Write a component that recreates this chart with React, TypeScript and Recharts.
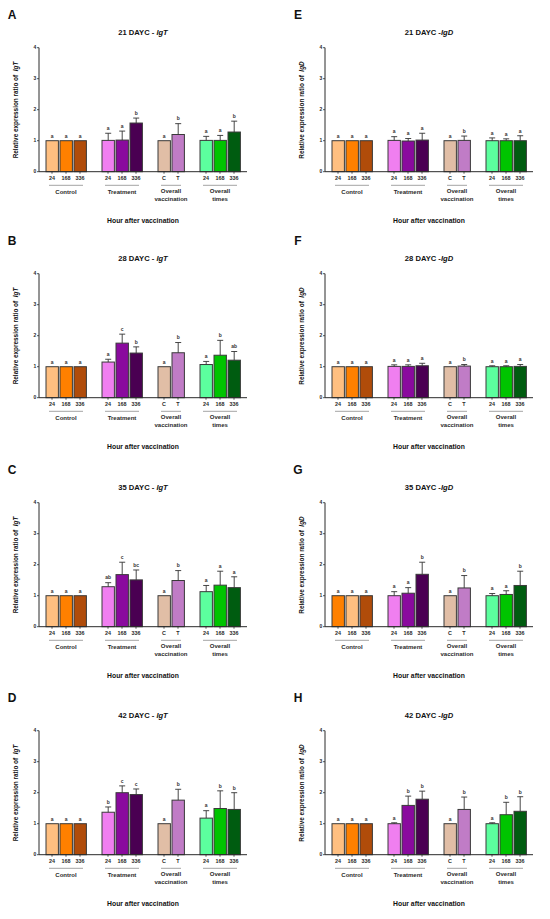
import React from 'react';
import { BarChart, Bar, XAxis, YAxis } from 'recharts';

const FONT = '"Liberation Sans", Arial, sans-serif';
const INK = '#2a2a2a';
const BAND = 14;

const GROUPS = [['Control'], ['Treatment'], ['Overall', 'vaccination'], ['Overall', 'times']];
const TICKS = [['24', '168', '336'], ['24', '168', '336'], ['C', 'T'], ['24', '168', '336']];
const Y_TICKS = [0, 1, 2, 3, 4];

const COLORS = ['#FFBF80', '#FF8000', '#B04C0A', '#F07FF0', '#8A0A9E', '#4A0052', '#E1BEA6', '#C07CC6', '#5CFF9E', '#00C400', '#005C10'];
const COLORS_G = ['#FF8000', '#FFBF80', '#B04C0A', '#F07FF0', '#8A0A9E', '#4A0052', '#E1BEA6', '#C07CC6', '#5CFF9E', '#00C400', '#005C10'];

// IgT
const igT21Mean = [1, 1, 1, 1.01, 1.02, 1.57, 1, 1.2, 1.01, 1.01, 1.28];
const igT21Err = [0, 0, 0, 0.23, 0.29, 0.16, 0, 0.35, 0.13, 0.16, 0.35];
const igT21Sig = ['a', 'a', 'a', 'a', 'a', 'b', 'a', 'b', 'a', 'a', 'b'];

const igT28Mean = [1, 1, 1, 1.15, 1.76, 1.44, 1, 1.45, 1.07, 1.37, 1.21];
const igT28Err = [0, 0, 0, 0.09, 0.29, 0.2, 0, 0.33, 0.1, 0.48, 0.28];
const igT28Sig = ['a', 'a', 'a', 'a', 'c', 'b', 'a', 'b', 'a', 'b', 'ab'];

const igT35Mean = [1, 1, 1, 1.29, 1.68, 1.51, 1, 1.49, 1.13, 1.34, 1.26];
const igT35Err = [0, 0, 0, 0.13, 0.4, 0.32, 0, 0.32, 0.2, 0.45, 0.35];
const igT35Sig = ['a', 'a', 'a', 'ab', 'c', 'bc', 'a', 'b', 'a', 'a', 'a'];

const igT42Mean = [1, 1, 1, 1.37, 2.0, 1.94, 1, 1.76, 1.18, 1.49, 1.46];
const igT42Err = [0, 0, 0, 0.17, 0.22, 0.18, 0, 0.35, 0.24, 0.57, 0.54];
const igT42Sig = ['a', 'a', 'a', 'b', 'c', 'c', 'a', 'b', 'a', 'b', 'b'];

// IgD
const igD21Mean = [1, 1, 1, 1.01, 0.99, 1.02, 1, 1.01, 1, 1, 1];
const igD21Err = [0, 0, 0, 0.12, 0.08, 0.22, 0, 0.14, 0.09, 0.06, 0.16];
const igD21Sig = ['a', 'a', 'a', 'a', 'a', 'a', 'a', 'b', 'a', 'a', 'a'];

const igD28Mean = [1, 1, 1, 1.01, 1.01, 1.03, 1, 1.02, 1, 1, 1.01];
const igD28Err = [0, 0, 0, 0.05, 0.05, 0.08, 0, 0.05, 0.03, 0.03, 0.06];
const igD28Sig = ['a', 'a', 'a', 'a', 'a', 'a', 'a', 'b', 'a', 'a', 'a'];

const igD35Mean = [1, 1, 1, 1.0, 1.08, 1.69, 1, 1.25, 1.0, 1.04, 1.33];
const igD35Err = [0, 0, 0, 0.13, 0.18, 0.39, 0, 0.4, 0.07, 0.12, 0.46];
const igD35Sig = ['a', 'a', 'a', 'a', 'a', 'b', 'a', 'b', 'a', 'a', 'b'];

const igD42Mean = [1, 1, 1, 1.0, 1.59, 1.79, 1, 1.46, 1.0, 1.29, 1.4];
const igD42Err = [0, 0, 0, 0.03, 0.3, 0.26, 0, 0.4, 0.03, 0.4, 0.47];
const igD42Sig = ['a', 'a', 'a', 'a', 'b', 'b', 'a', 'b', 'a', 'b', 'b'];

type Row = {
  key: string;
  label?: string;
  mean?: number | null;
  err?: number;
  sig?: string;
  color?: string;
  group?: string[];
  groupSize?: number;
};

const buildRows = (mean: number[], err: number[], sig: string[], colors: string[]) => {
  const rows: Row[] = [];
  let k = 0;
  GROUPS.forEach((g, gi) => {
    TICKS[gi].forEach((t, ti) => {
      rows.push({
        key: 'r' + rows.length,
        label: t,
        mean: mean[k],
        err: err[k],
        sig: sig[k],
        color: colors[k],
        group: ti === 0 ? g : undefined,
        groupSize: TICKS[gi].length,
      });
      k++;
    });
    // empty slot between groups
    if (gi < GROUPS.length - 1) rows.push({ key: 'r' + rows.length, mean: null });
  });
  return rows;
};

const BarShape = (props: any) => {
  const { x, y, width, height, payload } = props;
  if (!payload || payload.mean == null) return null;
  const perUnit = height / payload.mean;
  const top = y - (payload.err || 0) * perUnit;
  const cx = x + width / 2;
  return (
    <g>
      <rect x={x} y={y} width={width} height={height} fill={payload.color} stroke="#3a3a3a" strokeWidth={1} />
      {payload.err > 0 && (
        <g stroke="#333" strokeWidth={0.9}>
          <line x1={cx} x2={cx} y1={y} y2={top} />
          <line x1={cx - 3} x2={cx + 3} y1={top} y2={top} />
        </g>
      )}
      <text x={cx} y={top - 3.2} textAnchor="middle" fontSize={5} fontWeight="bold" fill="#333" fontFamily={FONT}>
        {payload.sig}
      </text>
    </g>
  );
};

const renderTick = (props: any, rows: Row[]) => {
  const { x, y, index } = props;
  const row = rows[index];
  if (!row || row.mean == null) return <g />;
  const mid = x + ((row.groupSize! - 1) * BAND) / 2;
  const t = { fontFamily: FONT, fontWeight: 'bold' as const, fill: INK, stroke: 'none' };
  return (
    <g>
      <line x1={x} x2={x} y1={y} y2={y + 2} stroke={INK} strokeWidth={0.8} />
      <text {...t} x={x} y={y + 8.5} textAnchor="middle" fontSize={5.4}>{row.label}</text>
      {row.group && (
        <g>
          <line x1={x - 3} x2={x + (row.groupSize! - 1) * BAND + 3} y1={y + 13.6} y2={y + 13.6} stroke="#9a9a9a" strokeWidth={0.9} />
          {row.group.length === 1 ? (
            <text {...t} x={mid} y={y + 22.7} textAnchor="middle" fontSize={6}>{row.group[0]}</text>
          ) : (
            <text {...t} textAnchor="middle" fontSize={6}>
              <tspan x={mid} y={y + 21.1}>{row.group[0]}</tspan>
              <tspan x={mid} y={y + 29.7}>{row.group[1]}</tspan>
            </text>
          )}
        </g>
      )}
    </g>
  );
};

interface PanelProps {
  letter: string;
  day: string;
  gene: string;
  dash: string;
  mean: number[];
  err: number[];
  sig: string[];
  colors: string[];
  left: number;
  top: number;
}

const Panel = ({ letter, day, gene, dash, mean, err, sig, colors, left, top }: PanelProps) => {
  const rows = buildRows(mean, err, sig, colors);
  const text: React.CSSProperties = { position: 'absolute', fontFamily: FONT, fontWeight: 'bold', color: '#111', whiteSpace: 'nowrap', textAlign: 'center' };
  return (
    <div style={{ position: 'absolute', left, top, width: 275, height: 232 }}>
      <BarChart width={260} height={232} data={rows} margin={{ top: 47.7, right: 13, left: 0, bottom: 2.3 }} barSize={12.4}>
        <YAxis
          width={39}
          domain={[0, 4]}
          ticks={Y_TICKS}
          interval={0}
          tickSize={2}
          tickMargin={0.8}
          axisLine={{ stroke: INK, strokeWidth: 1 }}
          tickLine={{ stroke: INK, strokeWidth: 0.8 }}
          tick={{ fontSize: 5, fontWeight: 'bold', fill: INK, fontFamily: FONT }}
        />
        <XAxis
          dataKey="key"
          height={58}
          interval={0}
          padding={{ left: 6, right: 6 }}
          tickSize={0}
          tickMargin={0}
          tickLine={false}
          axisLine={{ stroke: INK, strokeWidth: 1 }}
          tick={(p: any) => renderTick(p, rows)}
        />
        <Bar dataKey="mean" shape={BarShape} isAnimationActive={false} />
      </BarChart>
      <div style={{ ...text, left: 0, top: 8, width: 24, fontSize: 12, lineHeight: '14px' }}>{letter}</div>
      <div style={{ ...text, left: 43, top: 28, width: 200, fontSize: 7.6, lineHeight: '10px' }}>
        {day} DAYC {dash}<i>{gene}</i>
      </div>
      <div style={{ ...text, left: 16 - 100, top: 110 - 5, width: 200, fontSize: 6.4, lineHeight: '10px', transform: 'rotate(-90deg)' }}>
        Relative expression ratio of{'\u00a0\u00a0'}<i>{gene}</i>
      </div>
      <div style={{ ...text, left: 43, top: 216, width: 200, fontSize: 6.8, lineHeight: '10px' }}>Hour after vaccination</div>
    </div>
  );
};

const App = () => {
  const tops = [0, 225.5, 455, 683];
  return (
    <div style={{ position: 'absolute', left: 0, top: 0, width: 550, height: 919, background: '#fff', overflow: 'hidden' }}>
      <Panel letter="A" day="21" gene="IgT" dash="- " mean={igT21Mean} err={igT21Err} sig={igT21Sig} colors={COLORS} left={0} top={tops[0]} />
      <Panel letter="B" day="28" gene="IgT" dash="- " mean={igT28Mean} err={igT28Err} sig={igT28Sig} colors={COLORS} left={0} top={tops[1]} />
      <Panel letter="C" day="35" gene="IgT" dash="- " mean={igT35Mean} err={igT35Err} sig={igT35Sig} colors={COLORS} left={0} top={tops[2]} />
      <Panel letter="D" day="42" gene="IgT" dash="- " mean={igT42Mean} err={igT42Err} sig={igT42Sig} colors={COLORS} left={0} top={tops[3]} />
      <Panel letter="E" day="21" gene="IgD" dash="-" mean={igD21Mean} err={igD21Err} sig={igD21Sig} colors={COLORS} left={286} top={tops[0]} />
      <Panel letter="F" day="28" gene="IgD" dash="-" mean={igD28Mean} err={igD28Err} sig={igD28Sig} colors={COLORS} left={286} top={tops[1]} />
      <Panel letter="G" day="35" gene="IgD" dash="-" mean={igD35Mean} err={igD35Err} sig={igD35Sig} colors={COLORS_G} left={286} top={tops[2]} />
      <Panel letter="H" day="42" gene="IgD" dash="-" mean={igD42Mean} err={igD42Err} sig={igD42Sig} colors={COLORS} left={286} top={tops[3]} />
    </div>
  );
};

export default App;
